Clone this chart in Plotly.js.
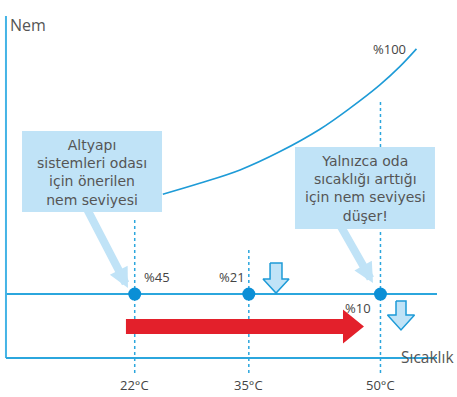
<!DOCTYPE html>
<html>
<head>
<meta charset="utf-8">
<script src="https://cdn.plot.ly/plotly-3.0.1.min.js"></script>
<style>
  html, body { margin: 0; padding: 0; background: #fff; }
  #chart { width: 457px; height: 397px; }
</style>
</head>
<body>
<div id="chart"></div>
<script>
// temperatures (°C) where the room states are marked
const temps = [22, 35, 50];
const tempLabels = ['22°C', '35°C', '50°C'];
// relative humidity at each temperature
const rhLabels = ['%45', '%21', '%10'];
// constant moisture level (arbitrary vertical units, 0 = x axis, 100 = top of y axis)
const moistureLevel = 18.7;
// saturation curve (%100)
const curveX = [25.2, 29.4, 34.0, 38.5, 43.1, 46.5, 49.9, 52.2, 54.1];
const curveY = [47.9, 51.1, 55.0, 60.3, 66.9, 73.0, 79.8, 85.2, 90.4];
const curveLabel = '%100';
// callout texts
const noteLeft = ['Altyapı', 'sistemleri odası', 'için önerilen', 'nem seviyesi'];
const noteRight = ['Yalnızca oda', 'sıcaklığı arttığı', 'için nem seviyesi', 'düşer!'];

const xRange = [6.65, 58.72];
const yRange = [-11.4, 104.68];
const axisX0 = 7.33, axisX1 = 56.44;

const blue = '#1e9bd7';
const lightBlue = '#c0e3f7';
const textGrey = '#555555';
const font = '"Open Sans", Roboto, sans-serif';
const noteFont = '"DejaVu Sans", "Open Sans", sans-serif';

const traces = [];

// saturation curve
traces.push({
  x: curveX, y: curveY, mode: 'lines',
  line: { color: blue, width: 1.6, shape: 'spline' }, hoverinfo: 'skip'
});

// constant moisture line
traces.push({
  x: [axisX0, axisX1], y: [moistureLevel, moistureLevel], mode: 'lines',
  line: { color: '#2ba6dd', width: 2 }, hoverinfo: 'skip'
});

// dotted verticals (the 50°C one is interrupted by the right callout)
const dottedSegs = [[22, -4.4, 40.9], [35, -4.4, 31.6], [50, -4.4, 37.7], [50, 61.7, 75.4]];
dottedSegs.forEach(([t, y0, y1]) => {
  traces.push({
    x: [t, t], y: [y0, y1], mode: 'lines',
    line: { color: '#2ba6dd', width: 1.5, dash: '3px,3px' }, hoverinfo: 'skip'
  });
});

// red arrow (temperature rise)
const redStart = 21.0, redShaftEnd = 45.73, redTip = 48.12;
const redMid = 9.21, redHalf = 2.19, redHeadHalf = 4.97;
traces.push({
  x: [redStart, redShaftEnd, redShaftEnd, redTip, redShaftEnd, redShaftEnd, redStart, redStart],
  y: [redMid + redHalf, redMid + redHalf, redMid + redHeadHalf, redMid, redMid - redHeadHalf,
      redMid - redHalf, redMid - redHalf, redMid + redHalf],
  mode: 'lines', fill: 'toself', fillcolor: '#e3202b',
  line: { color: '#e3202b', width: 0 }, hoverinfo: 'skip'
});

// hollow down arrows (humidity drops)
function downArrow(cx, top, headStart, tip, shaftHalf, headHalf) {
  return {
    x: [cx - shaftHalf, cx + shaftHalf, cx + shaftHalf, cx + headHalf, cx, cx - headHalf, cx - shaftHalf, cx - shaftHalf],
    y: [top, top, headStart, headStart, tip, headStart, headStart, top],
    mode: 'lines', fill: 'toself', fillcolor: lightBlue,
    line: { color: blue, width: 1.5 }, hoverinfo: 'skip'
  };
}
traces.push(downArrow(38.10, 27.78, 23.1, 19.0, 0.68, 1.48));
traces.push(downArrow(52.34, 16.67, 12.57, 8.19, 0.57, 1.54));

// markers
traces.push({
  x: temps, y: temps.map(() => moistureLevel), mode: 'markers',
  marker: { color: '#0b8fd6', size: 13 }, hoverinfo: 'skip'
});

const shapes = [
  // axes
  { type: 'line', x0: axisX0, x1: axisX0, y0: 0, y1: 100, line: { color: '#45b4e6', width: 2 } },
  { type: 'line', x0: axisX0, x1: axisX1, y0: 0, y1: 0, line: { color: '#2ba6dd', width: 2 } },
  // callout boxes
  { type: 'rect', x0: 9.16, x1: 25.11, y0: 42.69, y1: 66.37, fillcolor: lightBlue, line: { width: 0 }, layer: 'above' },
  { type: 'rect', x0: 40.26, x1: 56.21, y0: 37.72, y1: 61.70, fillcolor: lightBlue, line: { width: 0 }, layer: 'above' }
];

const annotations = [];
// callout text
annotations.push({ x: 17.13, y: 54.2, text: noteLeft.join('<br>'), showarrow: false,
  font: { family: noteFont, size: 14, color: textGrey }, align: 'center' });
annotations.push({ x: 48.24, y: 49.5, text: noteRight.join('<br>'), showarrow: false,
  font: { family: noteFont, size: 14, color: textGrey }, align: 'center' });
// callout pointers
annotations.push({ x: 21.23, y: 20.47, ax: 16.33, ay: 44.7, axref: 'x', ayref: 'y', text: '',
  showarrow: true, arrowhead: 2, arrowsize: 0.5, arrowwidth: 8, arrowcolor: lightBlue });
annotations.push({ x: 49.15, y: 21.93, ax: 45.39, ay: 38.9, axref: 'x', ayref: 'y', text: '',
  showarrow: true, arrowhead: 2, arrowsize: 0.5, arrowwidth: 8, arrowcolor: lightBlue });
// humidity labels
const rhShift = [[22, 17], [-17, 17], [-22, -14]];
temps.forEach((t, i) => {
  annotations.push({ x: t, y: moistureLevel, text: rhLabels[i], showarrow: false,
    xshift: rhShift[i][0], yshift: rhShift[i][1],
    font: { family: font, size: 13, color: '#444' } });
});
annotations.push({ x: curveX[curveX.length - 1], y: curveY[curveY.length - 1], text: curveLabel,
  showarrow: false, xshift: -27, yshift: 0, font: { family: font, size: 13, color: '#444' } });
// tick labels
temps.forEach((t, i) => {
  annotations.push({ x: t, y: -7.9, text: tempLabels[i], showarrow: false,
    font: { family: font, size: 13, color: '#444' } });
});
// axis titles
annotations.push({ x: 8 / 457, y: 1 - 12 / 397, xref: 'paper', yref: 'paper', xanchor: 'left',
  text: 'Nem', showarrow: false, font: { family: font, size: 16, color: textGrey } });
annotations.push({ x: 456 / 457, y: 1 - 370 / 397, xref: 'paper', yref: 'paper', xanchor: 'right',
  text: 'Sıcaklık', showarrow: false, font: { family: font, size: 15.5, color: textGrey } });

const layout = {
  width: 457, height: 397,
  margin: { l: 0, r: 0, t: 0, b: 0 },
  paper_bgcolor: '#fff', plot_bgcolor: '#fff',
  showlegend: false,
  xaxis: { range: xRange, visible: false, fixedrange: true },
  yaxis: { range: yRange, visible: false, fixedrange: true },
  shapes: shapes,
  annotations: annotations
};

Plotly.newPlot('chart', traces, layout, { displayModeBar: false, staticPlot: true });
</script>
</body>
</html>
